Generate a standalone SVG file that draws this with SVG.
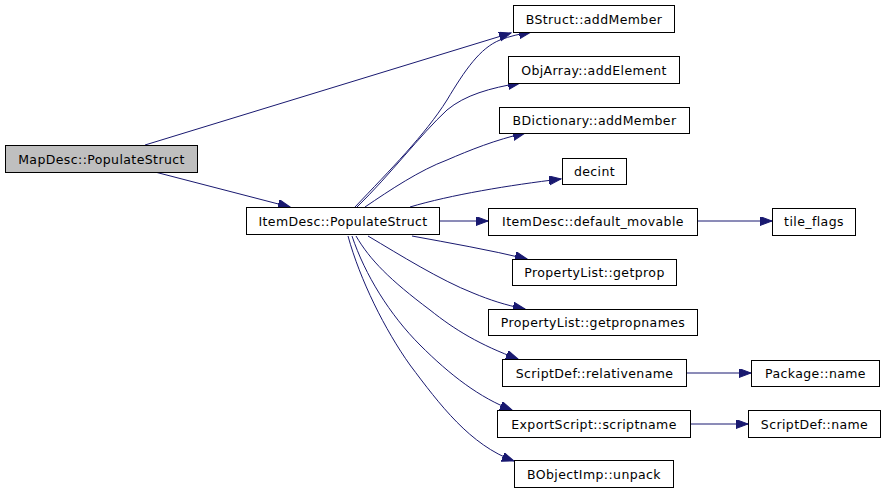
<svg xmlns="http://www.w3.org/2000/svg" width="885" height="493" viewBox="0 0 885 493">
<style>
.n rect{fill:#ffffff;stroke:#000000;stroke-width:1}
.n.root rect{fill:#bfbfbf}
.n text{font-family:"DejaVu Sans",sans-serif;font-size:12.5px;letter-spacing:0.4px;fill:#000000;text-anchor:middle}
.e path{fill:none;stroke:#191970;stroke-width:1;marker-end:url(#arr)}
</style>
<defs>
<marker id="arr" markerWidth="13" markerHeight="10" refX="12" refY="4.5" orient="auto" markerUnits="userSpaceOnUse">
<path d="M0,0 L12,4.5 L0,9 z" fill="#191970" stroke="#191970" stroke-width="1"/>
</marker>
</defs>
<rect width="885" height="493" fill="#ffffff"/>
<g class="e" id="connectors">
<path d="M145,145 L511,33"/>
<path d="M155,172 L290,207"/>
<path d="M355,207 C 390,170 425,135 447,100 C 465,70 480,48 500,40 C 510,36 520,34 531,32"/>
<path d="M357,207 C 390,175 420,135 447,110 C 465,95 490,88 520,83"/>
<path d="M365,207 C 390,190 420,170 447,160 C 470,150 495,140 525,133"/>
<path d="M410,207 C 450,195 510,185 561,179"/>
<path d="M439,221 L488,221"/>
<path d="M412,236 C 450,243 490,250 527,259"/>
<path d="M368,236 C 400,255 440,280 473,293 C 490,300 505,305 525,309"/>
<path d="M356,236 C 370,260 390,280 430,310 C 455,330 480,345 518,359"/>
<path d="M352,236 C 365,275 390,315 420,345 C 450,375 480,398 512,410"/>
<path d="M348,236 C 360,280 385,330 410,365 C 440,405 470,445 514,461"/>
<path d="M697,221 L772,221"/>
<path d="M686,373 L751,373"/>
<path d="M690,424 L748,424"/>
</g>
<g class="n root" id="MapDesc_PopulateStruct"><rect x="5.5" y="145.5" width="192" height="27"/><text x="101.5" y="163.5">MapDesc::PopulateStruct</text></g>
<g class="n" id="ItemDesc_PopulateStruct"><rect x="246.5" y="207.5" width="193" height="27"/><text x="343" y="225.5">ItemDesc::PopulateStruct</text></g>
<g class="n" id="BStruct_addMember"><rect x="513.5" y="5.5" width="161" height="27"/><text x="594" y="23.5">BStruct::addMember</text></g>
<g class="n" id="ObjArray_addElement"><rect x="508.5" y="56.5" width="171" height="27"/><text x="594" y="74.5">ObjArray::addElement</text></g>
<g class="n" id="BDictionary_addMember"><rect x="499.5" y="107.5" width="190" height="26"/><text x="594.5" y="125">BDictionary::addMember</text></g>
<g class="n" id="decint"><rect x="562.5" y="158.5" width="64" height="26"/><text x="594.5" y="176">decint</text></g>
<g class="n" id="ItemDesc_default_movable"><rect x="488.5" y="208.5" width="209" height="27"/><text x="593" y="226">ItemDesc::default_movable</text></g>
<g class="n" id="tile_flags"><rect x="772.5" y="208.5" width="83" height="27"/><text x="814" y="226">tile_flags</text></g>
<g class="n" id="PropertyList_getprop"><rect x="512.5" y="259.5" width="164" height="26"/><text x="594.5" y="277">PropertyList::getprop</text></g>
<g class="n" id="PropertyList_getpropnames"><rect x="488.5" y="309.5" width="209" height="26"/><text x="593" y="327">PropertyList::getpropnames</text></g>
<g class="n" id="ScriptDef_relativename"><rect x="502.5" y="359.5" width="184" height="27"/><text x="594.5" y="377.5">ScriptDef::relativename</text></g>
<g class="n" id="Package_name"><rect x="751.5" y="360.5" width="128" height="26"/><text x="815.5" y="378">Package::name</text></g>
<g class="n" id="ExportScript_scriptname"><rect x="497.5" y="410.5" width="193" height="27"/><text x="594" y="428.5">ExportScript::scriptname</text></g>
<g class="n" id="ScriptDef_name"><rect x="748.5" y="410.5" width="132" height="27"/><text x="814.5" y="428.5">ScriptDef::name</text></g>
<g class="n" id="BObjectImp_unpack"><rect x="514.5" y="460.5" width="159" height="27"/><text x="594" y="478.5">BObjectImp::unpack</text></g>
</svg>
